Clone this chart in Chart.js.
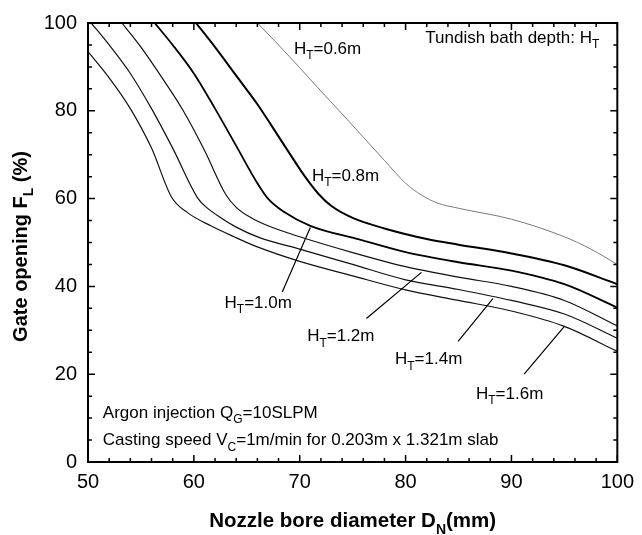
<!DOCTYPE html>
<html>
<head>
<meta charset="utf-8">
<script src="https://cdn.jsdelivr.net/npm/chart.js@4/dist/chart.umd.min.js"></script>
<style>
  html, body { margin: 0; padding: 0; background: #fff; }
  #wrap { width: 642px; height: 535px; }
</style>
</head>
<body>
<div id="wrap"><canvas id="gateChart" width="642" height="535"></canvas></div>
<script>
// tick labels
var xTickValues = [50, 60, 70, 80, 90, 100];
var yTickValues = [0, 20, 40, 60, 80, 100];

// nozzle bore diameter (mm) and gate opening (%) for each tundish depth
var diam06 = [66, 68, 70, 72, 74, 76, 78, 80, 81.5, 83, 85, 90, 95, 97.5, 100];
var open06 = [100, 95, 89.8, 84.5, 79.3, 74, 68.7, 63.5, 60.8, 59, 57.8, 55.3, 51.3, 48.5, 45];

var diam08 = [60.2, 62, 64, 66, 68.5, 70.5, 71.8, 73, 75, 78, 82, 85, 90, 95, 100];
var open08 = [100, 94.5, 88, 81.5, 72.3, 65, 61, 58.3, 55.6, 53.2, 50.8, 49.5, 47.5, 44.8, 40.5];

var diam10 = [56.3, 58, 60, 62, 64, 66, 67, 68.5, 71, 75.6, 80, 85, 90, 95, 100];
var open10 = [100, 95, 88.5, 80.5, 72, 63.5, 60, 57, 53.8, 50.7, 47.8, 45.5, 43.6, 40.5, 35.2];

var diam12 = [53.2, 55, 57, 59, 61, 63, 64, 65.5, 67, 70, 75, 80, 85, 90, 95, 100];
var open12 = [100, 94.5, 87.5, 80, 71, 61, 58, 55.5, 53.8, 51.3, 47.7, 44.5, 42.1, 40, 36.8, 31];

var diam14 = [50.3, 52, 54, 56, 58, 60.4, 61.2, 62.5, 64, 66.2, 70, 75, 80, 85, 90, 95, 100];
var open14 = [100, 95, 88.5, 80.5, 71.5, 60, 58, 55.7, 53.5, 51.1, 48.5, 45, 41.5, 39.3, 36.8, 33.7, 28.2];

var diam16 = [50, 52, 54, 56, 57.9, 59.4, 61.6, 63.8, 66, 70, 75, 80, 85, 90, 95, 100];
var open16 = [93.5, 87.5, 80.5, 71.5, 60.3, 56.8, 53.8, 51.3, 49, 45.7, 42.4, 39.2, 36.8, 34.4, 30.9, 25.2];

function pts(xs, ys) {
  return xs.map(function(v, i) { return { x: v, y: ys[i] }; });
}

function series(label, xs, ys, color, width) {
  return {
    label: label,
    data: pts(xs, ys),
    borderColor: color,
    borderWidth: width,
    showLine: true,
    pointRadius: 0,
    cubicInterpolationMode: 'monotone',
    fill: false
  };
}

// text notes on the plot, placed in data coordinates
// each part: [text, isSubscript]
var notes = [
  { at: [69.45, 93.0], parts: [['H'], ['T', 1], ['=0.6m']] },
  { at: [81.86, 95.5], parts: [['Tundish bath depth: H'], ['T', 1]] },
  { at: [71.15, 64.0], parts: [['H'], ['T', 1], ['=0.8m']] },
  { at: [62.9, 35.1], parts: [['H'], ['T', 1], ['=1.0m']] },
  { at: [70.7, 27.5], parts: [['H'], ['T', 1], ['=1.2m']] },
  { at: [79.0, 22.3], parts: [['H'], ['T', 1], ['=1.4m']] },
  { at: [86.65, 14.4], parts: [['H'], ['T', 1], ['=1.6m']] },
  { at: [51.4, 10.1], parts: [['Argon injection Q'], ['G', 1], ['=10SLPM']] },
  { at: [51.4, 3.8], parts: [['Casting speed V'], ['C', 1], ['=1m/min for 0.203m x 1.321m slab']] }
];

// leader lines from the labels to their curves
var leaders = [
  [68.35, 38.7, 71.0, 53.4],
  [76.3, 32.7, 81.5, 43.2],
  [84.96, 27.5, 88.25, 37.2],
  [91.2, 20.0, 95.0, 30.9]
];

var FONT = '"Liberation Sans", Arial, Helvetica, sans-serif';

function drawParts(ctx, parts, x, y, size, weight) {
  ctx.textBaseline = 'alphabetic';
  ctx.textAlign = 'left';
  parts.forEach(function(p) {
    if (p[1]) {
      ctx.font = weight + ' ' + Math.round(size * 0.7) + 'px ' + FONT;
      ctx.fillText(p[0], x, y + size * 0.32);
    } else {
      ctx.font = weight + ' ' + size + 'px ' + FONT;
      ctx.fillText(p[0], x, y);
    }
    x += ctx.measureText(p[0]).width;
  });
}

function partsWidth(ctx, parts, size, weight) {
  var w = 0;
  parts.forEach(function(p) {
    ctx.font = weight + ' ' + (p[1] ? Math.round(size * 0.7) : size) + 'px ' + FONT;
    w += ctx.measureText(p[0]).width;
  });
  return w;
}

var decorations = {
  id: 'decorations',
  afterDraw: function(chart) {
    var ctx = chart.ctx, a = chart.chartArea;
    var xs = chart.scales.x, ys = chart.scales.y;
    ctx.save();
    ctx.strokeStyle = '#000';
    ctx.fillStyle = '#000';

    // inward ticks on all four sides
    ctx.lineWidth = 1.5;
    ctx.beginPath();
    for (var v = 50; v <= 100; v += 2) {
      var px = xs.getPixelForValue(v);
      var len = v % 10 === 0 ? 7 : 4;
      ctx.moveTo(px, a.bottom); ctx.lineTo(px, a.bottom - len);
      ctx.moveTo(px, a.top); ctx.lineTo(px, a.top + len);
    }
    for (var w = 0; w <= 100; w += 5) {
      var py = ys.getPixelForValue(w);
      var l2 = w % 20 === 0 ? 7 : 4;
      ctx.moveTo(a.left, py); ctx.lineTo(a.left + l2, py);
      ctx.moveTo(a.right, py); ctx.lineTo(a.right - l2, py);
    }
    ctx.stroke();

    // frame
    ctx.lineWidth = 2;
    ctx.strokeRect(a.left, a.top, a.right - a.left, a.bottom - a.top);

    // leader lines
    ctx.lineWidth = 1.2;
    ctx.beginPath();
    leaders.forEach(function(s) {
      ctx.moveTo(xs.getPixelForValue(s[0]), ys.getPixelForValue(s[1]));
      ctx.lineTo(xs.getPixelForValue(s[2]), ys.getPixelForValue(s[3]));
    });
    ctx.stroke();

    // notes
    notes.forEach(function(n) {
      drawParts(ctx, n.parts, xs.getPixelForValue(n.at[0]), ys.getPixelForValue(n.at[1]), 17, 'normal');
    });

    // axis titles
    var xt = [['Nozzle bore diameter D'], ['N', 1], ['(mm)']];
    var xw = partsWidth(ctx, xt, 20.5, 'bold');
    drawParts(ctx, xt, (a.left + a.right) / 2 - xw / 2, 527, 20.5, 'bold');

    var yt = [['Gate opening F'], ['L', 1], [' (%)']];
    var yw = partsWidth(ctx, yt, 20, 'bold');
    ctx.translate(27, (a.top + a.bottom) / 2 + 4);
    ctx.rotate(-Math.PI / 2);
    drawParts(ctx, yt, -yw / 2, 0, 20, 'bold');
    ctx.restore();
  }
};

var ctx = document.getElementById('gateChart').getContext('2d');
new Chart(ctx, {
  type: 'scatter',
  data: {
    datasets: [
      series('HT=0.6m', diam06, open06, '#7a7a7a', 1),
      series('HT=0.8m', diam08, open08, '#000', 2),
      series('HT=1.0m', diam10, open10, '#000', 1.8),
      series('HT=1.2m', diam12, open12, '#111', 1.2),
      series('HT=1.4m', diam14, open14, '#111', 1.2),
      series('HT=1.6m', diam16, open16, '#111', 1.2)
    ]
  },
  options: {
    responsive: false,
    animation: false,
    devicePixelRatio: 1,
    layout: { padding: { top: 18, right: 22, left: 0, bottom: 0 } },
    plugins: {
      legend: { display: false },
      tooltip: { enabled: false }
    },
    scales: {
      x: {
        type: 'linear',
        min: 50,
        max: 100,
        afterBuildTicks: function(s) { s.ticks = xTickValues.map(function(v) { return { value: v }; }); },
        afterFit: function(s) { s.height = 73; },
        grid: { display: false, drawTicks: false },
        border: { display: false },
        ticks: { padding: 8, color: '#000', font: { family: FONT, size: 20 } }
      },
      y: {
        type: 'linear',
        min: 0,
        max: 100,
        afterBuildTicks: function(s) { s.ticks = yTickValues.map(function(v) { return { value: v }; }); },
        afterFit: function(s) { s.width = 88; },
        grid: { display: false, drawTicks: false },
        border: { display: false },
        ticks: { padding: 11, color: '#000', font: { family: FONT, size: 20 } }
      }
    }
  },
  plugins: [decorations]
});
</script>
</body>
</html>
